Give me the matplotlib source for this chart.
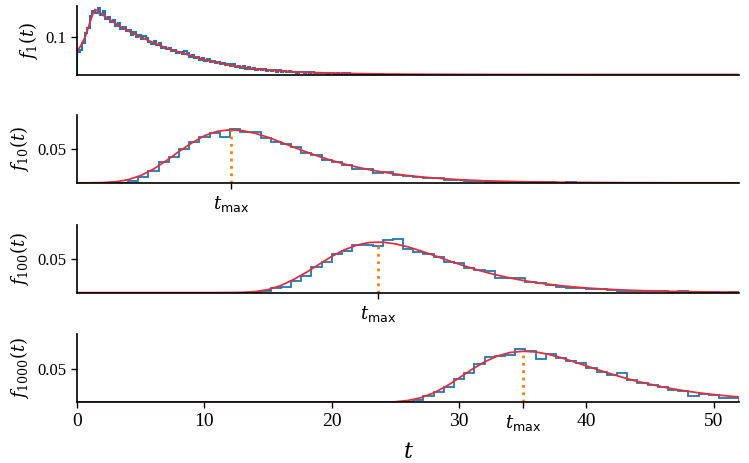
import numpy as np
import matplotlib
matplotlib.use('Agg')
import matplotlib.pyplot as plt

plt.rcParams['mathtext.fontset'] = 'dejavuserif'

# --- data ---
# f_1: fine histogram (bin width 0.2, from t=0) and fitted curve
f1_bin = 0.2
f1_hist = [0.060, 0.066, 0.084, 0.112, 0.124, 0.156, 0.170, 0.165, 0.178, 0.160,
           0.171, 0.149, 0.154, 0.140, 0.147, 0.131, 0.138, 0.121, 0.127, 0.116,
           0.119, 0.107, 0.113, 0.101, 0.106, 0.095, 0.102, 0.099, 0.086, 0.083,
           0.090, 0.078, 0.085, 0.071, 0.074, 0.067, 0.071, 0.062, 0.066, 0.058,
           0.061, 0.054, 0.062, 0.057, 0.048, 0.052, 0.044, 0.048, 0.040, 0.044,
           0.036, 0.041, 0.034, 0.037, 0.030, 0.034, 0.028, 0.031, 0.025, 0.029,
           0.023, 0.027, 0.020, 0.024, 0.018, 0.022, 0.016, 0.020, 0.014, 0.017,
           0.012, 0.016, 0.011, 0.015, 0.010, 0.013, 0.009, 0.012, 0.008, 0.011,
           0.008, 0.010, 0.007, 0.009, 0.006, 0.008, 0.005, 0.007, 0.006, 0.004,
           0.006, 0.004, 0.006, 0.003, 0.005, 0.004, 0.003, 0.005, 0.002, 0.004,
           0.003, 0.002, 0.004, 0.002, 0.003, 0.001, 0.003, 0.002, 0.001, 0.002,
           0.001, 0.002, 0.001, 0.001, 0.0, 0.002, 0.001, 0.0, 0.001, 0.001]
f1_t = [0, 0.3, 0.6, 0.9, 1.2, 1.4, 1.7, 2.0, 2.5, 3, 3.5, 4, 5, 6, 7, 8, 9, 10,
        11, 12, 13, 14, 15, 16, 17, 18, 19, 20, 22, 24, 26, 28, 30, 35, 40, 52]
f1_curve = [0.062, 0.078, 0.098, 0.128, 0.160, 0.174, 0.168, 0.160, 0.148, 0.137,
            0.126, 0.117, 0.100, 0.085, 0.071, 0.060, 0.050, 0.040, 0.032, 0.025,
            0.019, 0.015, 0.012, 0.0095, 0.0075, 0.006, 0.0048, 0.0038, 0.0024,
            0.0015, 0.0009, 0.0006, 0.0004, 0.0001, 0.0, 0.0]

# N = 10, 100, 1000: histograms with bin width 0.8 starting at t=0
bin_w = 0.8
f10_hist = [0, 0, 0, 0, 0, 0.003, 0.009, 0.017, 0.031, 0.038, 0.050, 0.060, 0.068,
            0.074, 0.068, 0.080, 0.075, 0.075, 0.066, 0.061, 0.057, 0.053, 0.044,
            0.041, 0.034, 0.031, 0.026, 0.021, 0.020, 0.015, 0.016, 0.012, 0.010,
            0.009, 0.007, 0.007, 0.004, 0.005, 0.003, 0.003, 0.002, 0.002, 0.002,
            0.001, 0.001, 0.001, 0.001, 0, 0.001] + [0] * 16
f100_hist = [0] * 17 + [0.001, 0.002, 0.007, 0.009, 0.017, 0.025, 0.038, 0.045, 0.057,
                        0.062, 0.070, 0.071, 0.069, 0.078, 0.079, 0.064, 0.060, 0.058,
                        0.053, 0.046, 0.044, 0.037, 0.033, 0.032, 0.022, 0.022, 0.021,
                        0.016, 0.014, 0.011, 0.009, 0.007, 0.007, 0.005, 0.005, 0.004,
                        0.003, 0.003, 0.002, 0.003, 0.002, 0.001, 0.002, 0.001, 0.001,
                        0.001, 0.0, 0.001]
f1000_hist = [0] * 31 + [0.0, 0.001, 0.004, 0.009, 0.015, 0.023, 0.034, 0.044, 0.057,
                         0.067, 0.069, 0.070, 0.079, 0.076, 0.064, 0.072, 0.066, 0.061,
                         0.058, 0.051, 0.045, 0.040, 0.044, 0.033, 0.029, 0.026, 0.023,
                         0.019, 0.017, 0.010, 0.013, 0.011, 0.007, 0.007]

# fitted curves sampled at t = 0, 1, ..., 52
t_curve = np.arange(53)
f10_curve = [0.0, 0.0001, 0.0004, 0.0016, 0.0047, 0.0109, 0.0205, 0.0330, 0.0466, 0.0592,
             0.0700, 0.0765, 0.0788, 0.0775, 0.0735, 0.0676, 0.0604, 0.0530, 0.0458, 0.0392,
             0.0332, 0.0279, 0.0233, 0.0194, 0.0160, 0.0132, 0.0108, 0.0089, 0.0073, 0.0059,
             0.0048, 0.0039, 0.0031, 0.0026, 0.0021, 0.0017, 0.0014, 0.0011, 0.0009, 0.0007,
             0.0006, 0.0005, 0.0004, 0.0003, 0.0003, 0.0002, 0.0002, 0.0001, 0.0001, 0.0001,
             0.0001, 0.0, 0.0]
f100_curve = [0] * 12 + [0.0001, 0.0004, 0.0015, 0.0045, 0.0105, 0.0195, 0.0300, 0.0420,
                         0.0538, 0.0636, 0.0707, 0.0745, 0.0749, 0.0723, 0.0678, 0.0619,
                         0.0553, 0.0486, 0.0422, 0.0361, 0.0307, 0.0259, 0.0217, 0.0181,
                         0.0150, 0.0124, 0.0102, 0.0084, 0.0069, 0.0057, 0.0047, 0.0038,
                         0.0031, 0.0026, 0.0021, 0.0017, 0.0014, 0.0011, 0.0009, 0.0008,
                         0.0006]
f1000_curve = [0] * 24 + [0.0002, 0.0009, 0.0028, 0.0069, 0.0140, 0.0240, 0.0362, 0.0488,
                          0.0601, 0.0687, 0.0740, 0.0758, 0.0748, 0.0713, 0.0663, 0.0603,
                          0.0540, 0.0478, 0.0418, 0.0362, 0.0312, 0.0268, 0.0228, 0.0193,
                          0.0163, 0.0137, 0.0115, 0.0096, 0.0080]

t_max = [12.1, 23.6, 35.05]
f_at_tmax = [0.0789, 0.0750, 0.0759]

labels = [r'$f_{1}(t)$', r'$f_{10}(t)$', r'$f_{100}(t)$', r'$f_{1000}(t)$']
tmax_label = r'$t_{\mathsf{max}}$'

blue = '#1f77b4'
red = '#e0303c'
orange = '#ff7f0e'

fig = plt.figure(figsize=(7.49, 4.63), dpi=100)
left, width, height = 0.103, 0.884, 0.147
bottoms = [0.839, 0.605, 0.368, 0.131]
axes = [fig.add_axes([left, b, width, height]) for b in bottoms]

hists = [f1_hist, f10_hist, f100_hist, f1000_hist]
curves = [(f1_t, f1_curve), (t_curve, f10_curve), (t_curve, f100_curve), (t_curve, f1000_curve)]

for i, ax in enumerate(axes):
    w = f1_bin if i == 0 else bin_w
    edges = np.arange(len(hists[i]) + 1) * w
    ax.stairs(hists[i], edges, color=blue, lw=1.5 if i == 0 else 1.3)
    ax.plot(curves[i][0], curves[i][1], color=red, lw=1.3)
    ax.set_xlim(0, 52)
    ax.set_ylim(0, 0.182 if i == 0 else 0.101)
    for s in ['top', 'right']:
        ax.spines[s].set_visible(False)
    for s in ['left', 'bottom']:
        ax.spines[s].set_linewidth(1.2)
    ax.tick_params(width=1.0, length=4.5)
    ax.set_ylabel(labels[i], fontsize=13, labelpad=4)
    if i == 0:
        ax.set_yticks([0.1])
        ax.set_yticklabels(['0.1'], family='Liberation Serif', fontsize=12)
        ax.set_xticks([])
    else:
        ax.set_yticks([0.05])
        ax.set_yticklabels(['0.05'], family='Liberation Serif', fontsize=12)
        tm = t_max[i - 1]
        ax.plot([tm, tm], [0, f_at_tmax[i - 1]], ls=':', color=orange, lw=2)
        if i < 3:
            ax.set_xticks([tm])
            ax.set_xticklabels([tmax_label], fontsize=13)
        else:
            ticks = [0, 10, 20, 30, tm, 40, 50]
            ax.set_xticks(ticks)
            ax.set_xticklabels(['0', '10', '20', '30', tmax_label, '40', '50'], fontsize=13)
            for lab in ax.get_xticklabels():
                if lab.get_text() != tmax_label:
                    lab.set_family('Liberation Serif')
                    lab.set_fontsize(14)

axes[3].set_xlabel(r'$t$', fontsize=16, labelpad=6)

fig.savefig('out.png', dpi=100)
